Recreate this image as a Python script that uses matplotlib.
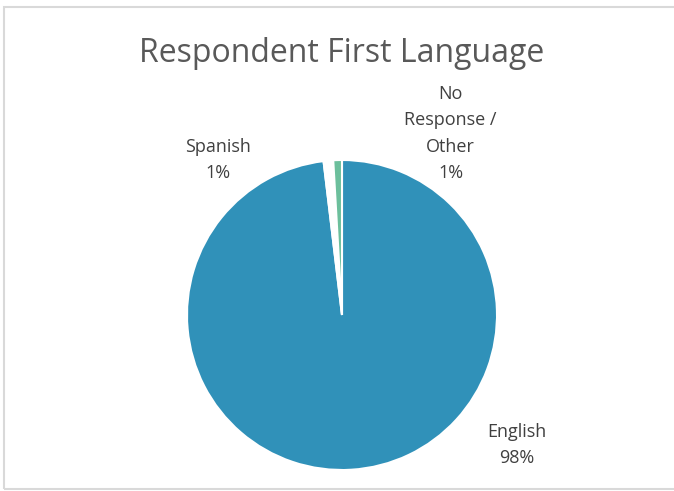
import matplotlib.pyplot as plt
from matplotlib.patches import Rectangle

labels = ["English", "Spanish", "No\nResponse /\nOther"]
values = [98.1, 1.0, 0.9]
pct_labels = ["98%", "1%", "1%"]
colors = ["#3091b9", "#ffffff", "#6cbf9c"]

plt.rcParams['font.family'] = ['Open Sans', 'DejaVu Sans']

fig = plt.figure(figsize=(6.74, 4.91), dpi=100)
W, H = 674, 491

# light grey chart border
fig.patches.append(Rectangle((4 / W, 2 / H), 1.0, 1 - 9 / H, transform=fig.transFigure,
                             fill=False, edgecolor="#d9d9d9", linewidth=1.5))

cx, cy, r = 342, 315, 155
ax = fig.add_axes([(cx - r) / W, (H - cy - r) / H, 2 * r / W, 2 * r / H])
ax.pie(values, colors=colors, startangle=90, counterclock=False,
       wedgeprops=dict(edgecolor="white", linewidth=1.5))
ax.set_xlim(-1, 1)
ax.set_ylim(-1, 1)
ax.axis("off")

# label positions in data units (1 = radius)
label_pos = [(1.13, -0.84), (-0.80, 1.0), (0.70, 1.17)]
for lab, pct, (x, y) in zip(labels, pct_labels, label_pos):
    ax.text(x, y, lab + "\n" + pct, ha="center", va="center", fontsize=13,
            color="#404040", linespacing=1.6, clip_on=False)

fig.text(cx / W, 1 - 53 / H, "Respondent First Language", ha="center", va="center",
         fontsize=23, color="#595959")

fig.savefig("out.png", dpi=100)
